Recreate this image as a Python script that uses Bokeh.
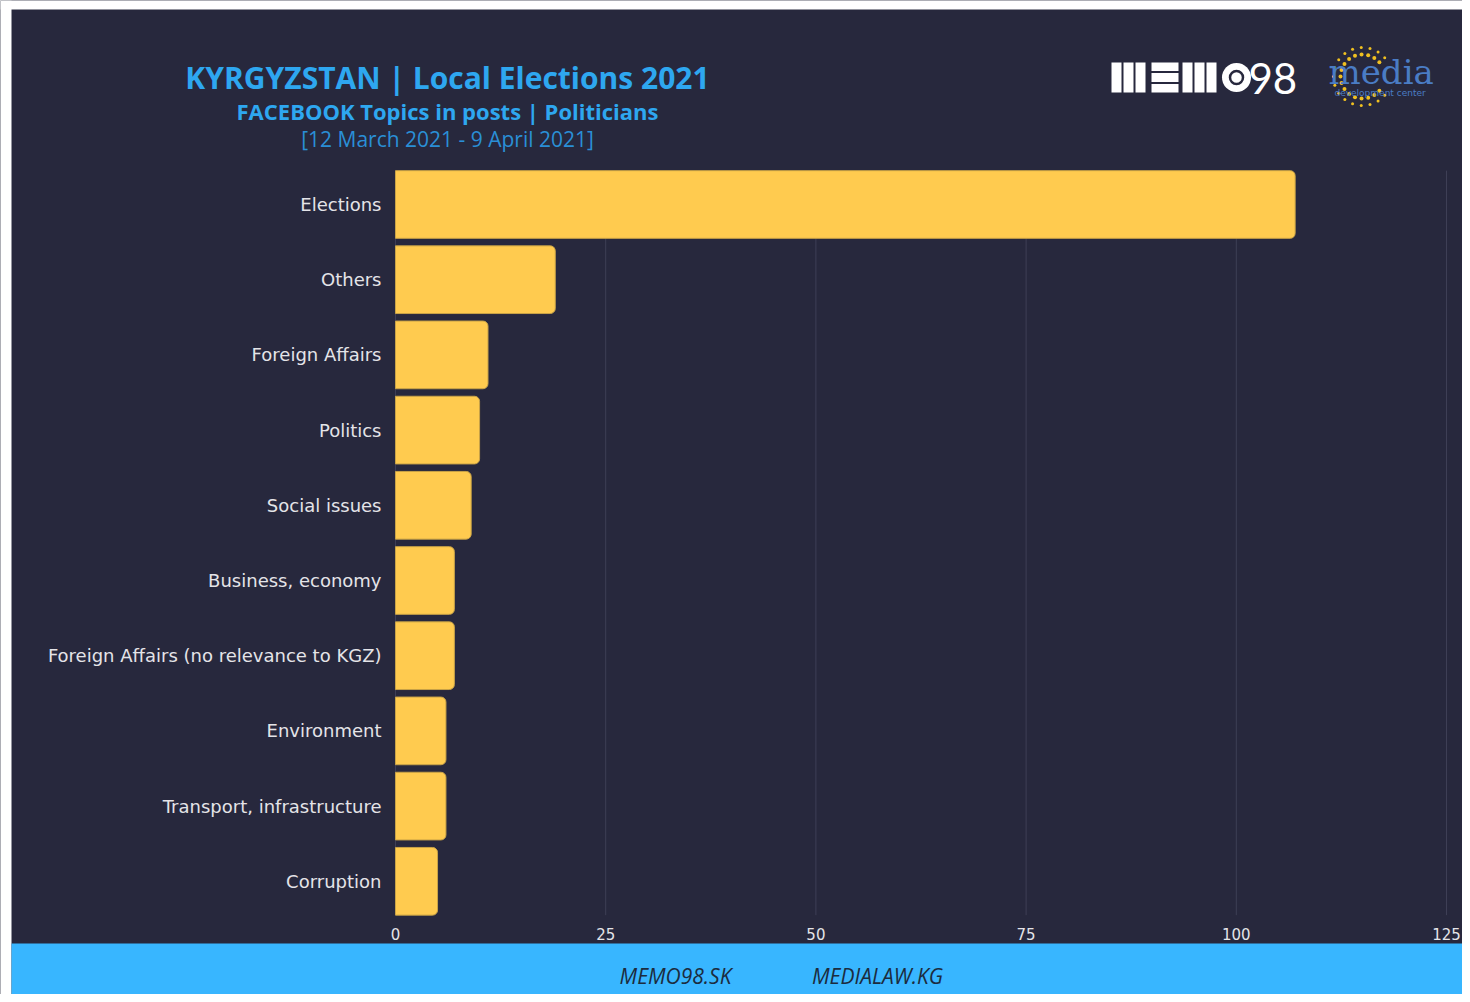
import numpy as np
from bokeh.plotting import figure
from bokeh.models import Range1d, ColumnDataSource
from bokeh.embed import file_html
from bokeh.resources import INLINE
from bokeh.core.properties import value

# ---------------- data ----------------
categories = ["Elections", "Others", "Foreign Affairs", "Politics", "Social issues",
              "Business, economy", "Foreign Affairs (no relevance to KGZ)",
              "Environment", "Transport, infrastructure", "Corruption"]
counts = [107, 19, 11, 10, 9, 7, 7, 6, 6, 5]
x_ticks = [0, 25, 50, 75, 100, 125]
x_tick_labels = ["0", "25", "50", "75", "100", "125"]

title_text = "KYRGYZSTAN | Local Elections 2021"
subtitle_text = "FACEBOOK Topics in posts | Politicians"
period_text = "[12 March 2021 - 9 April 2021]"
footer_texts = ["MEMO98.SK", "MEDIALAW.KG"]

# ---------------- layout / styles ----------------
BG = "#27283d"
BLUE = "#2ea7f0"
BAR = "#ffcb4f"
FOOT = "#38b6ff"
W, H = 1462, 994
X0_PX, X125_PX = 395, 1446          # canvas px of value 0 and 125
Y0_PX, PITCH = 204, 75.2            # canvas px of first category centre, band pitch
K = (X125_PX - X0_PX) / 125.0


def dx(px):
    return (px - X0_PX) / K


def dy(py):
    return (py - Y0_PX) / PITCH


p = figure(width=W, height=H, x_range=Range1d(dx(0), dx(W)), y_range=Range1d(dy(H), dy(0)),
           x_axis_type=None, y_axis_type=None, toolbar_location=None, output_backend="svg",
           min_border=0, background_fill_color=BG, border_fill_color=BG, outline_line_color=None)

# white page edge (top / left) as in the reference picture
p.quad(left=dx(0), right=dx(11), top=dy(0), bottom=dy(H), fill_color="white", line_color=None)
p.quad(left=dx(0), right=dx(W), top=dy(0), bottom=dy(9), fill_color="white", line_color=None)

idx = list(range(len(categories)))
src = ColumnDataSource(dict(y=idx, cat=categories, val=counts))

# vertical grid lines at the x ticks, spanning the category bands
p.segment(x0=x_ticks, x1=x_ticks, y0=-0.45, y1=len(categories) - 0.55,
          line_color="#3e3f56", line_width=1)

# bars
p.hbar(y="y", left=0, right="val", height=0.9, source=src, fill_color=BAR,
       line_color="#c9a347", line_width=1, border_radius=(0, 5, 5, 0))

# category labels (left axis)
p.text(x=dx(381), y="y", text="cat", source=src, text_align="right", text_baseline="middle",
       text_font=value("DejaVu Sans"), text_font_size="18px", text_color="#e4e4e8")

# x tick labels
p.text(x=x_ticks, y=dy(933), text=x_tick_labels, text_align="center", text_baseline="middle",
       text_font=value("DejaVu Sans"), text_font_size="15px", text_color="#e4e4e8")

# ---------------- header texts ----------------
p.text(x=[dx(447)], y=[dy(77)], text=[title_text], text_align="center", text_baseline="middle",
       text_font=value("Open Sans"), text_font_style="bold", text_font_size="30px", text_color=BLUE)
p.text(x=[dx(447)], y=[dy(110)], text=[subtitle_text], text_align="center", text_baseline="middle",
       text_font=value("Open Sans"), text_font_style="bold", text_font_size="22px", text_color=BLUE)
p.text(x=[dx(447)], y=[dy(138)], text=[period_text], text_align="center", text_baseline="middle",
       text_font=value("Open Sans"), text_font_size="21px", text_color="#2a8fd6")

# ---------------- MEMO98 logo (decoration) ----------------
ml = [1111, 1123, 1135, 1182, 1194, 1206]
p.quad(left=[dx(v) for v in ml], right=[dx(v + 10) for v in ml], top=dy(62), bottom=dy(92),
       fill_color="white", line_color=None)
p.quad(left=dx(1151), right=dx(1178), top=[dy(62), dy(72.5), dy(83.5)],
       bottom=[dy(70.5), dy(81.5), dy(92)], fill_color="white", line_color=None)
p.circle(x=[dx(1236)], y=[dy(77)], radius=14.5 / K, fill_color="white", line_color=None)
p.circle(x=[dx(1236)], y=[dy(77)], radius=6.5 / K, fill_color="white", line_color=BG,
         line_width=2.5)
p.text(x=[dx(1248)], y=[dy(78)], text=["98"], text_align="left", text_baseline="middle",
       text_font=value("Lato"), text_font_size="42px", text_color="white")

# ---------------- media development center logo (decoration) ----------------
ang = np.radians(np.linspace(40, 320, 17))
for r, s in [(22, 4), (29, 3)]:
    p.scatter(x=[dx(1362 + r * np.cos(a)) for a in ang], y=[dy(76 - r * np.sin(a)) for a in ang],
              size=s, fill_color="#f0c020", line_color=None)
p.text(x=[dx(1328)], y=[dy(71)], text=["media"], text_align="left", text_baseline="middle",
       text_font=value("DejaVu Serif"), text_font_size="34px", text_color="#4a7cc4")
p.text(x=[dx(1334)], y=[dy(92)], text=["development center"], text_align="left",
       text_baseline="middle", text_font=value("DejaVu Sans"), text_font_size="9px",
       text_color="#4a7cc4")

# ---------------- footer ----------------
p.quad(left=dx(11), right=dx(W), top=dy(943), bottom=dy(H), fill_color=FOOT, line_color=None)
p.text(x=[dx(675), dx(877)], y=dy(975), text=footer_texts, text_align="center",
       text_baseline="middle", text_font=value("Open Sans"), text_font_style="italic",
       text_font_size="21px", text_color="#1c2c3e")

open("out.html", "w").write(file_html(p, INLINE))
